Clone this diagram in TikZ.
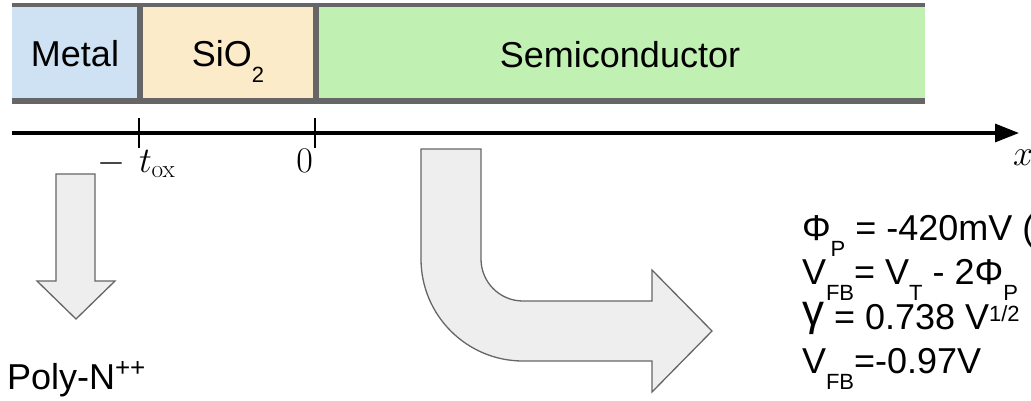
\documentclass[tikz,border=0pt]{standalone}
\usepackage{fix-cm}
\usepackage[no-math]{fontspec}
\newfontfamily\arial{Liberation Sans}
\usetikzlibrary{arrows.meta}

\definecolor{metalfill}{HTML}{CFE2F3}
\definecolor{oxidefill}{HTML}{FCEBC8}
\definecolor{semifill}{HTML}{C0F0B2}
\definecolor{edgegrey}{HTML}{666666}
\definecolor{shapefill}{HTML}{EEEEEE}

% Slide-style sub- and superscripts
\newcommand\lowtext[1]{\raisebox{-16pt}{\fontsize{22}{22}\selectfont #1}}
\newcommand\hightext[3]{\raisebox{#1}{\fontsize{#2}{#2}\selectfont #3}}

\begin{document}
\begin{tikzpicture}[x=1pt,y=-1pt,
  txt/.style={font=\arial\fontsize{36}{44}\selectfont, inner sep=0pt, outer sep=0pt},
  mathlbl/.style={font=\fontsize{36}{40}\selectfont, inner sep=0pt, outer sep=0pt},
  layer/.style={fill=#1, draw=none, inner sep=0pt, anchor=north west},
  bar/.style={draw=edgegrey, line width=6pt},
  tickmark/.style={line width=1.3pt},
  blockarrow/.style={draw=edgegrey, fill=shapefill, line width=1.3pt, line join=miter}]
\useasboundingbox (0,0) rectangle (1031,400);

% the three layers of the stack
\node[layer=metalfill, minimum width=128pt, minimum height=96pt] (metal) at (12,5) {};
\node[layer=oxidefill, minimum width=176pt, minimum height=96pt] (oxide) at (140,5) {};
\node[layer=semifill, minimum width=609pt, minimum height=96pt] (semi) at (316,5) {};
\draw[bar, line width=4pt] (metal.north west) -- (semi.north east);
\draw[bar] (metal.south west) -- (semi.south east);
\draw[bar] (oxide.north west) -- (oxide.south west);
\draw[bar] (semi.north west) -- (semi.south west);

\node[txt, anchor=base] (metaltxt) at (75,66) {Metal};
\node[txt, anchor=base] (oxidetxt) at (228,66) {SiO\lowtext{2}};
\node[txt, anchor=base] (semitxt) at (620,67) {Semiconductor};

% position axis
\coordinate (axstart) at (12,133);
\coordinate (axend) at (1019,133);
\draw[line width=3.3pt, -{Triangle[length=24pt,width=18pt]}] (axstart) -- (axend);
\coordinate (toxpt) at (139,133);
\coordinate (zeropt) at (315,133);
\draw[tickmark] (toxpt) ++(0,-15) -- ++(0,30);
\draw[tickmark] (zeropt) ++(0,-15) -- ++(0,30);
\node[mathlbl, anchor=base west] (toxlbl) at (97,172) {$-\mkern7mu t_{\mathrm{ox}}$};
\node[mathlbl, anchor=base east] (zerolbl) at (313,172) {$0$};
\node[mathlbl, anchor=base west] (xlbl) at (1013,165) {$x$};

% block arrows
\draw[blockarrow] (56,174) -- (95,174) -- (95,281) -- (115,281) -- (76,319)
  -- (37,281) -- (56,281) -- cycle;
\draw[blockarrow] (421,149) -- (481,149) -- (481,259)
  .. controls (481,282.2) and (499.8,301) .. (523,301)
  -- (652,301) -- (652,270) -- (712,331) -- (652,392) -- (652,361) -- (523,361)
  .. controls (466.7,361) and (421,315.3) .. (421,259) -- cycle;

\node[txt, anchor=base west] (gate) at (7,389) {Poly-N\hightext{13pt}{26}{++}};

% parameter list
\node[txt, anchor=base west] (phip) at (802,240) {Φ\lowtext{P} = -420mV (};
\node[txt, anchor=base west] (vfbdef) at (802,284) {V\lowtext{FB}= V\lowtext{T} - 2Φ\lowtext{P}};
\node[txt, anchor=base west] (gamma) at (802,329) {\raisebox{4pt}{\fontsize{44}{44}\selectfont γ} = 0.738 V\hightext{8pt}{22}{1/2}};
\node[txt, anchor=base west] (vfbval) at (802,373) {V\lowtext{FB}=-0.97V};
\end{tikzpicture}
\end{document}
